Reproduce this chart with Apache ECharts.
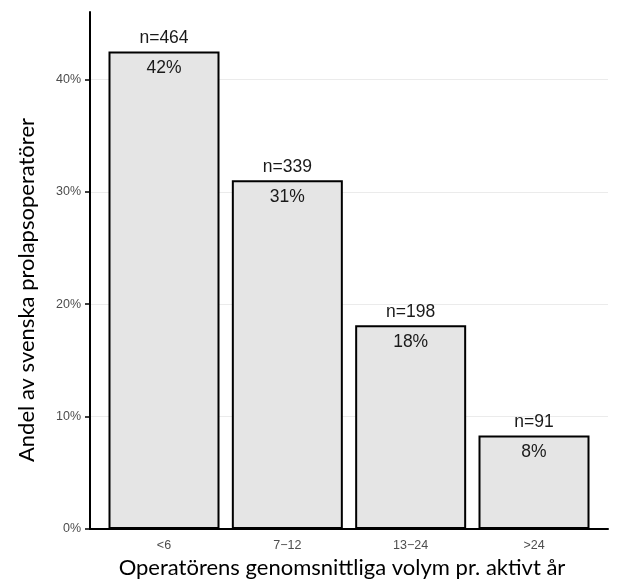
<!DOCTYPE html>
<html><head><meta charset="utf-8">
<script src="https://cdn.jsdelivr.net/npm/echarts@6/dist/echarts.min.js"></script>
<style>html,body{margin:0;padding:0;background:#fff}#c{width:630px;height:587px}</style>
</head><body><div id="c"></div>
<script>
const categories = ['<6', '7\u221212', '13\u221224', '>24'];
const shares = [42.49, 31.04, 18.13, 8.33];
const counts = [464, 339, 198, 91];
const shareLabels = ['42%', '31%', '18%', '8%'];
const yTicks = [0, 10, 20, 30, 40];
const yMax = 46;

const chart = echarts.init(document.getElementById('c'), null, {renderer: 'canvas'});
const gTop = 12, gBottom = 58;
const outerLeft = 90, outerRight = 22;
const unit = (630 - outerLeft - outerRight) / 4.2;
const innerLeft = outerLeft + 0.1 * unit;
const innerWidth = 4 * unit;

chart.setOption({
  animation: false,
  grid: [
    {left: outerLeft, right: outerRight, top: gTop, bottom: gBottom},
    {left: innerLeft, width: innerWidth, top: gTop, bottom: gBottom}
  ],
  xAxis: [
    {gridIndex: 0, type: 'value', min: 0, max: 1, show: true,
     axisLine: {show: true, onZero: false, lineStyle: {color: '#000', width: 2}},
     axisTick: {show: false}, axisLabel: {show: false}, splitLine: {show: false}},
    {gridIndex: 1, type: 'category', data: categories, boundaryGap: true,
     axisLine: {show: false}, axisTick: {show: false},
     axisLabel: {color: '#4d4d4d', fontSize: 12.5, fontFamily: 'Liberation Sans', margin: 10}}
  ],
  yAxis: [
    {gridIndex: 0, type: 'value', min: 0, max: yMax, interval: 10,
     axisLine: {show: true, lineStyle: {color: '#000', width: 2}},
     axisTick: {show: true, length: 5, customValues: yTicks, lineStyle: {color: '#000', width: 1.5}},
     axisLabel: {color: '#4d4d4d', fontSize: 12.5, fontFamily: 'Liberation Sans', margin: 9,
       customValues: yTicks, formatter: v => v + '%'},
     splitLine: {show: true, lineStyle: {color: '#ebebeb', width: 1}}},
    {gridIndex: 1, type: 'value', min: 0, max: yMax, show: false}
  ],
  series: [{
    type: 'bar', xAxisIndex: 1, yAxisIndex: 1,
    data: shares,
    barWidth: '90%',
    itemStyle: {color: '#e5e5e5', borderColor: '#000', borderWidth: 2}
  }, {
    type: 'bar', xAxisIndex: 1, yAxisIndex: 1, barGap: '-100%',
    data: shares,
    barWidth: '90%',
    itemStyle: {color: 'transparent'},
    silent: true,
    label: {show: true, position: 'insideTop', distance: 8, color: '#1a1a1a', fontSize: 17.5,
      fontFamily: 'Liberation Sans', formatter: p => shareLabels[p.dataIndex]},
    z: 3
  }, {
    type: 'bar', xAxisIndex: 1, yAxisIndex: 1, barGap: '-100%',
    data: shares,
    barWidth: '90%',
    itemStyle: {color: 'transparent'},
    silent: true,
    label: {show: true, position: 'top', distance: 4, color: '#1a1a1a', fontSize: 17.5,
      fontFamily: 'Liberation Sans', formatter: p => 'n=' + counts[p.dataIndex]},
    z: 3
  }],
  graphic: [
    {type: 'text', x: 342, y: 568,
     style: {text: 'Operatörens genomsnittliga volym pr. aktivt år', font: '22px Lato', fill: '#000',
       align: 'center', verticalAlign: 'middle'}},
    {type: 'text', x: 27, y: 290, rotation: Math.PI / 2,
     style: {text: 'Andel av svenska prolapsoperatörer', font: '22px Lato', fill: '#000',
       align: 'center', verticalAlign: 'middle'}}
  ]
});
</script></body></html>
